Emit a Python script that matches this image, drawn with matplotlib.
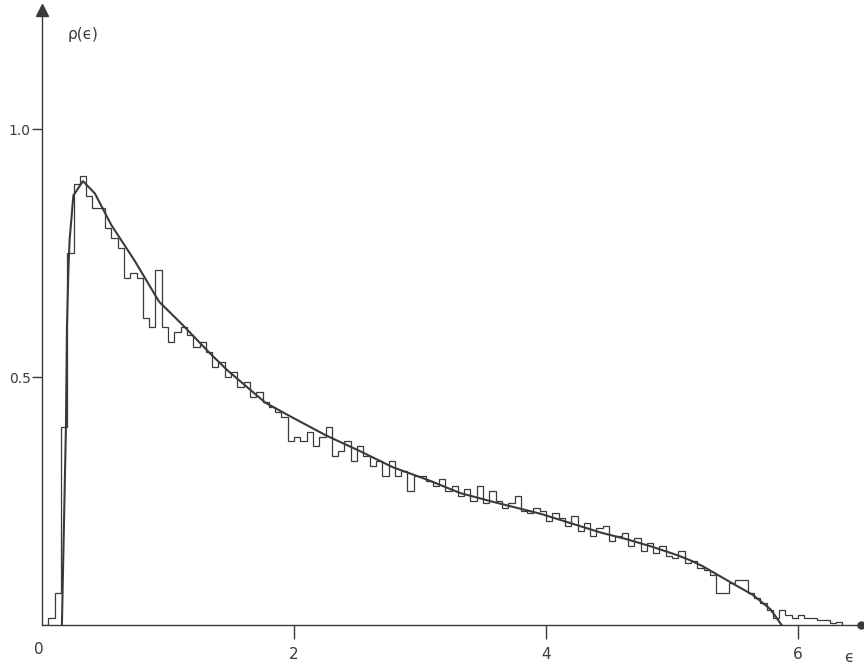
import numpy as np
import matplotlib
matplotlib.use("Agg")
from matplotlib import pyplot as plt

# histogram: bins of width 0.05 starting at 0
bin_start = 0.0
bin_width = 0.05
hist_vals = [0.00, 0.015, 0.065, 0.40, 0.75, 0.89, 0.905, 0.865, 0.84, 0.84,
             0.80, 0.78, 0.76, 0.70, 0.71, 0.70, 0.62, 0.60, 0.715, 0.60,
             0.57, 0.59, 0.60, 0.585, 0.56, 0.57, 0.55, 0.52, 0.53, 0.50,
             0.51, 0.48, 0.49, 0.46, 0.47, 0.45, 0.44, 0.43, 0.42, 0.37,
             0.38, 0.37, 0.39, 0.36, 0.38, 0.40, 0.34, 0.35, 0.37, 0.33,
             0.36, 0.34, 0.32, 0.33, 0.30, 0.33, 0.30, 0.31, 0.27, 0.30,
             0.30, 0.29, 0.28, 0.295, 0.27, 0.28, 0.26, 0.275, 0.25, 0.28,
             0.245, 0.27, 0.25, 0.235, 0.245, 0.26, 0.23, 0.225, 0.235, 0.23,
             0.21, 0.225, 0.215, 0.20, 0.22, 0.19, 0.205, 0.18, 0.195, 0.20,
             0.17, 0.18, 0.185, 0.16, 0.175, 0.15, 0.165, 0.145, 0.16, 0.14,
             0.135, 0.15, 0.125, 0.13, 0.115, 0.11, 0.10, 0.065, 0.065, 0.085,
             0.09, 0.09, 0.065, 0.055, 0.045, 0.03, 0.015, 0.03, 0.02, 0.015,
             0.02, 0.015, 0.015, 0.011, 0.011, 0.005, 0.006]

# fitted curve, points
curve_x = [0.158, 0.19, 0.198, 0.21, 0.219, 0.249, 0.325, 0.42, 0.549, 0.739,
           0.929, 1.124, 1.336, 1.474, 1.774, 1.983, 2.256, 2.52, 2.785,
           3.057, 3.32, 3.584, 3.96, 4.2, 4.44, 4.64, 4.84, 5.04, 5.14, 5.24,
           5.37, 5.50, 5.64, 5.78, 5.87]
curve_y = [0.0, 0.40, 0.60, 0.72, 0.776, 0.866, 0.895, 0.87, 0.807, 0.733,
           0.652, 0.603, 0.547, 0.513, 0.448, 0.419, 0.382, 0.351, 0.318,
           0.293, 0.266, 0.248, 0.224, 0.205, 0.186, 0.173, 0.158, 0.141, 0.131, 0.119,
           0.10, 0.081, 0.061, 0.032, 0.0]

x_ticks = [2, 4, 6]
y_ticks = [0.5, 1.0]
y_ticklabels = ["0.5", "1.0"]

ink = "#3a3a3a"

fig = plt.figure(figsize=(8.64, 6.70), dpi=100)
ax = fig.add_axes([42/864, 45/670, 819/864, 615/670])
ax.set_xlim(0, 6.5)
ax.set_ylim(0, 1.24)

edges = bin_start + bin_width * np.arange(len(hist_vals) + 1)
ax.stairs(hist_vals, edges, color=ink, lw=0.9)
ax.plot(curve_x, curve_y, color=ink, lw=1.5)

for s in ["top", "right"]:
    ax.spines[s].set_visible(False)
for s in ["left", "bottom"]:
    ax.spines[s].set_color(ink)
    ax.spines[s].set_linewidth(1.0)

ax.set_xticks(x_ticks)
ax.set_xticklabels([str(t) for t in x_ticks])
ax.set_yticks(y_ticks)
ax.set_yticklabels(y_ticklabels)
ax.tick_params(axis="x", direction="out", length=10, width=1.0, color=ink,
               labelsize=11, labelcolor=ink, pad=6)
ax.tick_params(axis="y", direction="out", length=7, width=1.0, color=ink,
               labelsize=10, labelcolor=ink, pad=1)

# arrow on y axis, dot at the end of x axis
ax.plot(0, 1, marker="^", color=ink, ms=8, transform=ax.transAxes, clip_on=False)
ax.plot(1, 0, marker="o", color=ink, ms=5, transform=ax.transAxes, clip_on=False)

ax.annotate("0", (0, 0), xytext=(-2, -12), textcoords="offset points",
            ha="center", va="top", fontsize=11, color=ink)
ax.annotate("ϵ", (6.4, 0), xytext=(0, -18), textcoords="offset points",
            ha="center", va="top", fontsize=11, color=ink)
ax.text(0.2, 1.19, "ρ(ϵ)", fontsize=11, color=ink, ha="left", va="center")

fig.savefig("out.png", dpi=100)
